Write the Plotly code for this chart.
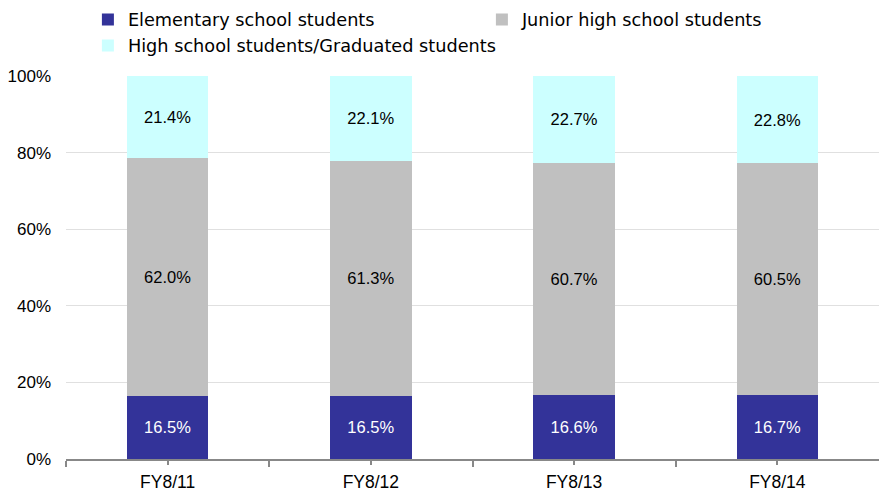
import plotly.graph_objects as go

categories = ["FY8/11", "FY8/12", "FY8/13", "FY8/14"]
elementary = [16.5, 16.5, 16.6, 16.7]
junior = [62.0, 61.3, 60.7, 60.5]
high = [21.4, 22.1, 22.7, 22.8]
y_ticks = [0, 20, 40, 60, 80, 100]
y_ticktext = ["0%", "20%", "40%", "60%", "80%", "100%"]

FONT = "Liberation Sans"
LEGFONT = "DejaVu Sans"
xpos = list(range(len(categories)))

series = [
    ("Elementary school students", elementary, "#333399", "white"),
    ("Junior high school students", junior, "#C0C0C0", "black"),
    ("High school students/Graduated students", high, "#CCFFFF", "black"),
]

fig = go.Figure()
for name, vals, color, tcolor in series:
    fig.add_trace(go.Bar(
        x=xpos, y=vals, name=name,
        marker=dict(color=color, line=dict(width=0)),
        text=[f"{v:.1f}%" for v in vals],
        textposition="inside", insidetextanchor="middle",
        textfont=dict(color=tcolor, size=16.5, family=FONT),
        width=0.4,
    ))

fig.update_layout(
    barmode="stack",
    barnorm="percent",
    width=879, height=493,
    margin=dict(l=66, r=0, t=76, b=34, autoexpand=False),
    plot_bgcolor="white", paper_bgcolor="white",
    font=dict(family=FONT, size=16, color="black"),
    uniformtext=dict(mode="show", minsize=10),
    legend=dict(
        orientation="h", xref="container", yref="container",
        x=0.1, y=0.997, xanchor="left", yanchor="top",
        entrywidth=349, entrywidthmode="pixels",
        font=dict(size=17.7, family=LEGFONT),
        traceorder="normal", tracegroupgap=0,
        itemsizing="constant",
    ),
    xaxis=dict(
        range=[-0.5, 3.5], automargin=False,
        tickvals=xpos, ticktext=categories,
        ticks="outside", ticklen=4, tickcolor="#888888", tickwidth=2,
        showline=True, linecolor="#888888", linewidth=2,
        showgrid=False, zeroline=False,
        ticklabelstandoff=2,
        tickfont=dict(size=17.5, family=FONT),
        minor=dict(tickvals=[-0.5, 0.5, 1.5, 2.5], ticks="outside", ticklen=6,
                   tickcolor="#888888", tickwidth=2, showgrid=False),
    ),
    yaxis=dict(
        range=[0, 100], automargin=False,
        tickvals=y_ticks, ticktext=y_ticktext,
        showgrid=True, gridcolor="#E0E0E0", gridwidth=1,
        zeroline=False, showline=False, ticks="",
        ticklabelstandoff=14,
        tickfont=dict(size=17, family=FONT),
    ),
)

fig.write_html("out.html")
